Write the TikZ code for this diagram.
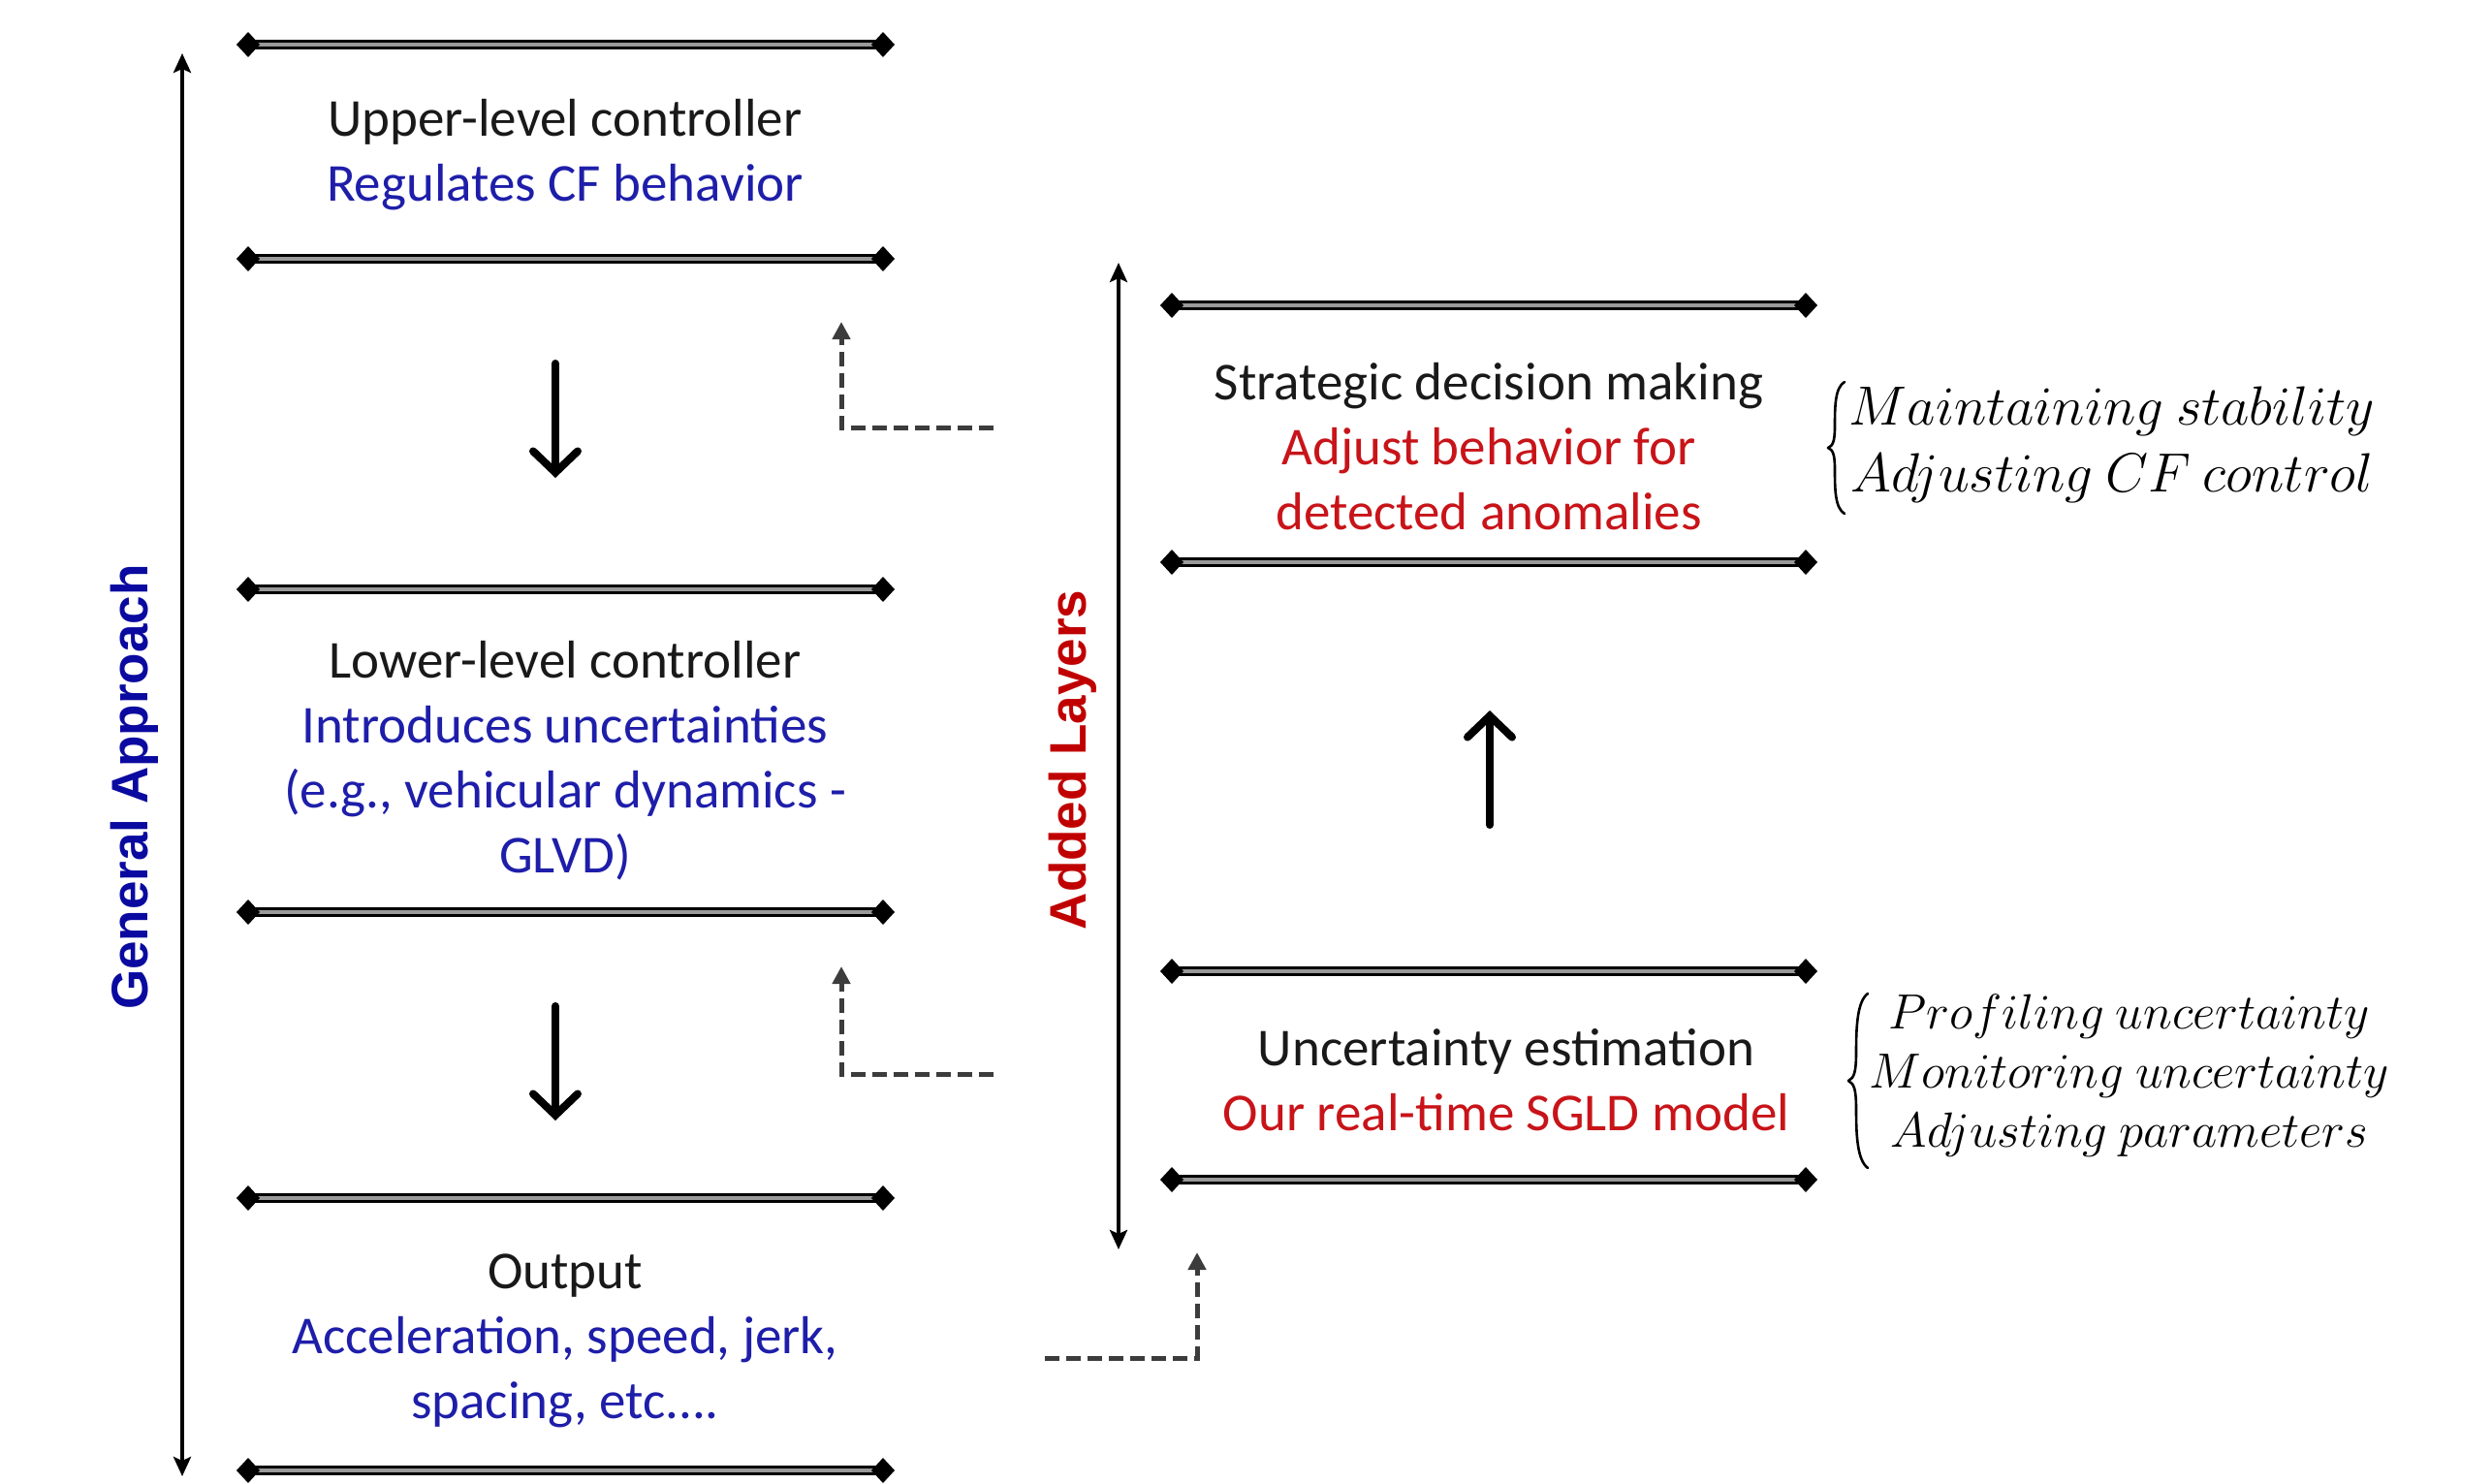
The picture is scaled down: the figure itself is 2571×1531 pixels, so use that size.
\RequirePackage{fix-cm}
\documentclass[tikz,border=0pt]{standalone}
\usepackage{fontspec}
\setmainfont{Carlito}
\newfontfamily\arialfont{Liberation Sans}
\usetikzlibrary{arrows.meta}
\definecolor{myblue}{RGB}{30,30,170}
\definecolor{myred}{RGB}{200,20,25}
\definecolor{navyb}{RGB}{10,10,160}
\definecolor{dred}{RGB}{192,0,0}
\definecolor{dashgray}{RGB}{60,60,60}
\definecolor{txtblack}{RGB}{25,25,25}
\tikzset{
  barline/.style={line width=1.5pt, double=black!40, double distance=2pt},
  txt/.style={font=\fontsize{27.5}{33.5}\selectfont, align=center, inner sep=0pt, text=txtblack},
  bigarrow/.style={line width=4pt, line cap=round, -{Straight Barb[length=11pt,width=23pt,line cap=round]}},
  longarrow/.style={line width=2.2pt, {Stealth[length=10pt,width=9pt,inset=2pt]}-{Stealth[length=10pt,width=9pt,inset=2pt]}},
  dashconn/.style={draw=dashgray, line width=2.5pt, dash pattern=on 7.5pt off 3.5pt, -{Triangle[length=9pt,width=9pt]}},
  sidelabel/.style={font=\arialfont\bfseries\fontsize{26.5}{30}\selectfont, rotate=90, inner sep=0pt},
  mathlist/.style={inner sep=0pt},
  bracestyle/.style={line width=1.3pt, line cap=round, line join=round}
}
\newcommand\sepbar[3]{%
  \draw[barline] (#1,#3) -- (#2,#3);
  \fill (#1-12,#3) -- (#1,#3-13) -- (#1+12,#3) -- (#1,#3+13) -- cycle;
  \fill (#2-12,#3) -- (#2,#3-13) -- (#2+12,#3) -- (#2,#3+13) -- cycle;
}
\begin{document}
\begin{tikzpicture}[x=0.5pt,y=-0.5pt]
\useasboundingbox (0,0) rectangle (2571,1531);
% left column bars
\sepbar{256}{911}{46}
\sepbar{256}{911}{267}
\sepbar{256}{911}{608}
\sepbar{256}{911}{941}
\sepbar{256}{911}{1236}
\sepbar{256}{911}{1517}
% right column bars
\sepbar{1209}{1863}{315}
\sepbar{1209}{1863}{580}
\sepbar{1209}{1863}{1002}
\sepbar{1209}{1863}{1217}
% left texts
\node[txt] (upper) at (583,160) {Upper-level controller\\\textcolor{myblue}{Regulates CF behavior}};
\node[txt] (lower) at (583,785) {Lower-level controller\\\textcolor{myblue}{Introduces uncertainties}\\\textcolor{myblue}{(e.g., vehicular dynamics -}\\\textcolor{myblue}{GLVD)}};
\node[txt] (output) at (583,1383) {Output\\\textcolor{myblue}{Acceleration, speed, jerk,}\\\textcolor{myblue}{spacing, etc....}};
% right texts
\node[txt] (strat) at (1536,461) {Strategic decision making\\\textcolor{myred}{Adjust behavior for}\\\textcolor{myred}{detected anomalies}};
\node[txt] (unc) at (1554,1114) {Uncertainty estimation\\\textcolor{myred}{Our real-time SGLD model}};
% side labels
\node[sidelabel, text=navyb] (gen) at (139,812) {General Approach};
\node[sidelabel, text=dred] (added) at (1107,784) {Added Layers};
% long arrows
\coordinate (gaT) at (188,55);
\coordinate (gaB) at (188,1523);
\draw[longarrow] (gaB) -- (gaT);
\coordinate (alT) at (1154,271);
\coordinate (alB) at (1154,1289);
\draw[longarrow] (alB) -- (alT);
% flow arrows
\coordinate (d1s) at (573,375);
\coordinate (d1e) at (573,493);
\draw[bigarrow] (d1s) -- (d1e);
\coordinate (d2s) at (573,1038);
\coordinate (d2e) at (573,1156);
\draw[bigarrow] (d2s) -- (d2e);
\coordinate (u1s) at (1537,851);
\coordinate (u1e) at (1537,733);
\draw[bigarrow] (u1s) -- (u1e);
% dashed connectors
\coordinate (c1s) at (1025,441);
\coordinate (c1e) at (868,332);
\draw[dashconn] (c1s) -| (c1e);
\coordinate (c2s) at (1025,1108);
\coordinate (c2e) at (868,997);
\draw[dashconn] (c2s) -| (c2e);
\coordinate (c3s) at (1078,1401);
\coordinate (c3e) at (1235,1292);
\draw[dashconn] (c3s) -| (c3e);
% braces
\draw[bracestyle] (1903,394) .. controls (1893,400) and (1893,420) .. (1893,440)
  .. controls (1893,455) and (1891,460) .. (1886,462)
  .. controls (1891,464) and (1893,469) .. (1893,484)
  .. controls (1893,504) and (1893,524) .. (1903,530);
\draw[bracestyle] (1927,1025) .. controls (1916,1033) and (1915,1060) .. (1915,1085)
  .. controls (1915,1106) and (1913,1112) .. (1907,1115)
  .. controls (1913,1118) and (1915,1124) .. (1915,1145)
  .. controls (1915,1170) and (1916,1197) .. (1927,1205);
% brace lists
\node[mathlist, font=\fontsize{28.5}{34.5}\selectfont] (list1) at (2179,459)
  {$\begin{array}{@{}c@{}}Maintaining\ stability\\ Adjusting\ CF\ control\end{array}$};
\node[mathlist, font=\fontsize{25.5}{30.5}\selectfont] (list2) at (2197,1110)
  {$\begin{array}{@{}c@{}}Profiling\ uncertainty\\ Monitoring\ uncertainty\\ Adjusting\ parameters\end{array}$};
\end{tikzpicture}
\end{document}
